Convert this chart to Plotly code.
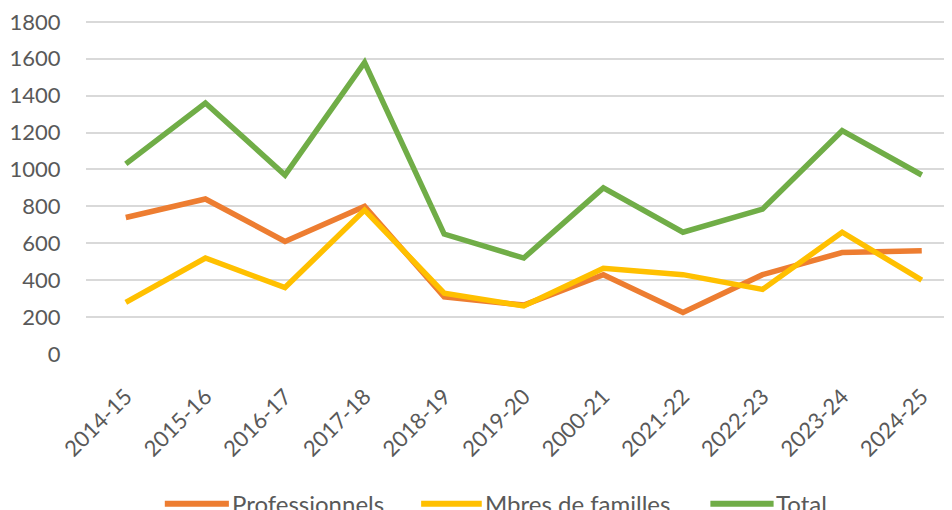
import plotly.graph_objects as go

saisons = ["2014-15", "2015-16", "2016-17", "2017-18", "2018-19", "2019-20",
           "2000-21", "2021-22", "2022-23", "2023-24", "2024-25"]

professionnels = [740, 840, 610, 800, 310, 265, 430, 225, 430, 550, 560]
familles = [280, 520, 360, 780, 330, 260, 465, 430, 350, 660, 400]
total = [1030, 1360, 970, 1580, 650, 520, 900, 660, 785, 1210, 970]

y_ticks = [0, 200, 400, 600, 800, 1000, 1200, 1400, 1600, 1800]

series = [
    ("Professionnels", professionnels, "#ED7D31"),
    ("Mbres de familles", familles, "#FFC000"),
    ("Total", total, "#70AD47"),
]
TEXTE = "#595959"
POLICE = "Lato"

fig = go.Figure()
for nom, valeurs, couleur in series:
    fig.add_trace(go.Scatter(
        x=list(range(len(saisons))),
        y=valeurs,
        mode="lines",
        name=nom,
        line=dict(color=couleur, width=5.5),
        showlegend=False,
    ))

# légende dessinée à la main (style Excel, coupée en bas comme l'original)
legende_x = [(0.091, 0.165), (0.387, 0.457), (0.721, 0.794)]
legende_y = -0.448
for (nom, _, couleur), (x0, x1) in zip(series, legende_x):
    fig.add_shape(
        type="line", xref="paper", yref="paper",
        x0=x0, x1=x1, y0=legende_y, y1=legende_y,
        line=dict(color=couleur, width=6),
    )
    fig.add_annotation(
        xref="paper", yref="paper",
        x=x1 + 0.001, y=legende_y,
        xanchor="left", yanchor="middle",
        text=nom, showarrow=False,
        font=dict(family=POLICE, size=24, color=TEXTE),
    )

fig.update_layout(
    width=944,
    height=502,
    paper_bgcolor="white",
    plot_bgcolor="white",
    margin=dict(l=78, r=0, t=12, b=156, autoexpand=False),
    font=dict(family=POLICE, size=22, color=TEXTE),
    showlegend=False,
    xaxis=dict(
        range=[-0.5, 10.38],
        tickmode="array",
        tickvals=list(range(len(saisons))),
        ticktext=saisons,
        tickangle=-45,
        showgrid=False,
        zeroline=False,
        showline=False,
        ticks="outside",
        ticklen=20,
        tickcolor="white",
    ),
    yaxis=dict(
        range=[0, 1810],
        tickmode="array",
        tickvals=y_ticks,
        showgrid=True,
        gridcolor="#D9D9D9",
        gridwidth=1.5,
        zeroline=False,
        showline=False,
        ticks="outside",
        ticklen=20,
        tickcolor="white",
        ticklabeloverflow="allow",
    ),
)

fig.write_html("out.html")
